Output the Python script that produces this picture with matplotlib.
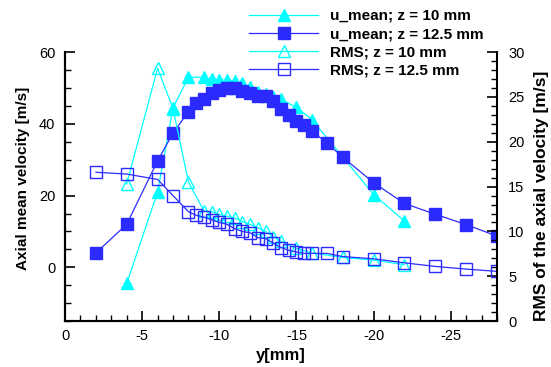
import numpy as np
import matplotlib
matplotlib.use('Agg')
import matplotlib.pyplot as plt
from matplotlib.ticker import MultipleLocator

plt.rcParams['font.family'] = ['Liberation Sans', 'DejaVu Sans']
plt.rcParams['axes.unicode_minus'] = False

# u_mean, z = 10 mm (left axis)
y_u10 = [-4, -6, -7, -8, -9, -9.5, -10, -10.5, -11, -11.5, -12, -12.5, -13, -13.5, -14, -15, -16, -20, -22]
u10 = [-4.5, 21, 44.5, 53, 53, 52.5, 52.2, 52.2, 52, 51.3, 50.2, 49, 48.3, 47.4, 46.8, 44.6, 41.2, 20.3, 12.9]

# u_mean, z = 12.5 mm (left axis)
y_u125 = [-2, -4, -6, -7, -8, -8.5, -9, -9.5, -10, -10.5, -11, -11.5, -12, -12.5, -13, -13.5,
          -14, -14.5, -15, -15.5, -16, -17, -18, -20, -22, -24, -26, -28]
u125 = [4, 12, 29.7, 37.4, 43.4, 45.8, 47, 48.6, 49.5, 49.9, 49.9, 49.2, 48.5, 47.7, 47.8, 46.5,
        44.2, 42.6, 40.8, 39.6, 38, 34.6, 30.7, 23.6, 17.8, 14.8, 11.9, 8.7]

# RMS, z = 10 mm (right axis)
y_r10 = [-4, -6, -7, -8, -9, -9.5, -10, -10.5, -11, -11.5, -12, -12.5, -13, -13.5, -14, -15, -16, -18, -20, -22]
r10 = [15.3, 28.2, 23.7, 15.5, 12.3, 12.2, 11.9, 11.7, 11.5, 11.1, 10.8, 10.4, 10.0, 9.4, 8.9, 8.1, 7.6, 7.1, 6.8, 6.3]

# RMS, z = 12.5 mm (right axis)
y_r125 = [-2, -4, -6, -7, -8, -8.5, -9, -9.5, -10, -10.5, -11, -11.5, -12, -12.5, -13, -13.5,
          -14, -14.5, -15, -15.5, -16, -17, -18, -20, -22, -24, -26, -28]
r125 = [16.6, 16.4, 15.8, 14.0, 12.2, 11.8, 11.6, 11.3, 11.0, 10.8, 10.3, 10.0, 9.85, 9.3, 9.2, 8.7,
        8.2, 7.9, 7.7, 7.55, 7.55, 7.55, 7.2, 6.95, 6.5, 6.1, 5.8, 5.55]

CYAN = '#00ffff'
BLUE = '#2b2bff'

fig = plt.figure(figsize=(5.51, 3.67), dpi=100)
ax = fig.add_axes([0.118, 0.125, 0.784, 0.733])
ax2 = ax.twinx()

l1, = ax.plot(y_u10, u10, color=CYAN, lw=0.9, marker='^', ms=8, mec=CYAN, mfc=CYAN,
              label='u_mean; z = 10 mm')
l2, = ax.plot(y_u125, u125, color=BLUE, lw=0.9, marker='s', ms=8, mec=BLUE, mfc=BLUE,
              label='u_mean; z = 12.5 mm')
l3, = ax2.plot(y_r10, r10, color=CYAN, lw=0.9, marker='^', ms=8, mec=CYAN, mfc='none', mew=1,
               label='RMS; z = 10 mm')
l4, = ax2.plot(y_r125, r125, color=BLUE, lw=0.9, marker='s', ms=8, mec=BLUE, mfc='none', mew=1,
               label='RMS; z = 12.5 mm')

ax.set_xlim(0, -28)
ax.set_ylim(-15, 60)
ax2.set_ylim(0, 30)

ax.xaxis.set_major_locator(MultipleLocator(5))
ax.xaxis.set_minor_locator(MultipleLocator(1))
ax.yaxis.set_major_locator(MultipleLocator(20))
ax.yaxis.set_minor_locator(MultipleLocator(5))
ax2.yaxis.set_major_locator(MultipleLocator(5))
ax2.yaxis.set_minor_locator(MultipleLocator(1))

for a in (ax, ax2):
    a.spines['top'].set_visible(False)
    for s in a.spines.values():
        s.set_linewidth(1.5)
    a.tick_params(which='major', direction='in', length=7, width=1.2, labelsize=10.5)
    a.tick_params(which='minor', direction='in', length=4.5, width=1)
ax.spines['right'].set_visible(False)
ax.tick_params(axis='x', pad=6)
ax.tick_params(axis='y', pad=7)
ax2.tick_params(axis='y', pad=8)

ax.set_xlabel('y[mm]', fontsize=12, fontweight='bold', labelpad=3)
ax.set_ylabel('Axial mean velocity [m/s]', fontsize=11, fontweight='bold')
ax2.set_ylabel('RMS of the axial velocity [m/s]', fontsize=12.5, fontweight='bold')
ax.yaxis.set_label_coords(-0.08, 0.53)
ax2.yaxis.set_label_coords(1.085, 0.465)

fig.legend(handles=[l1, l2, l3, l4], loc='upper left', bbox_to_anchor=(249 / 551, 1 - 9 / 367),
           frameon=False, borderpad=0, borderaxespad=0, handlelength=4.52, handletextpad=0.79,
           labelspacing=0.27, prop={'weight': 'bold', 'size': 11})

fig.savefig('out.png', dpi=100)
